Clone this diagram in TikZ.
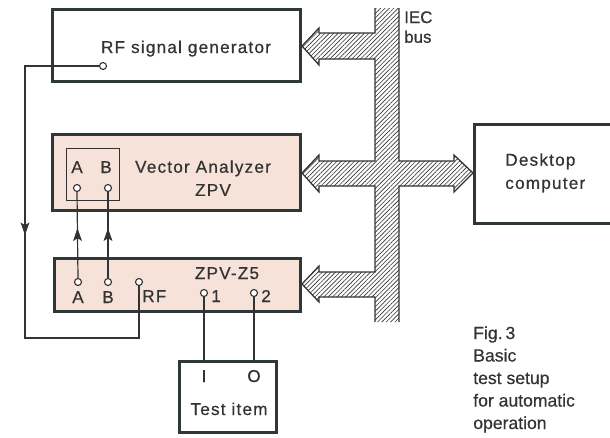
\documentclass[tikz,border=0pt]{standalone}
\usepackage{fontspec}
\setmainfont{Liberation Sans}[FakeBold=0.5]
\newfontfamily\boxfont{Liberation Sans}[LetterSpace=7,FakeBold=0.5]
\usepackage{tikz}
\usetikzlibrary{arrows.meta,positioning,patterns.meta,decorations.markings}
\definecolor{ZpvPink}{HTML}{F6E2D9}
\definecolor{ZpvInk}{HTML}{2E3836}
\definecolor{ZpvLine}{HTML}{333333}
\tikzset{
  devbox/.style={draw=ZpvInk,line width=2.1pt,fill=white,inner sep=0pt},
  pinkbox/.style={devbox,fill=ZpvPink},
  abbox/.style={draw=ZpvLine,line width=0.9pt,inner sep=0pt},
  portdot/.style={circle,draw=ZpvLine,line width=0.8pt,fill=white,minimum size=1.75mm,inner sep=0pt},
  boxtext/.style={font=\boxfont\fontsize{12.2}{16.5}\selectfont,text=ZpvLine,inner sep=0pt},
  captext/.style={font=\fontsize{12.5}{16}\selectfont,text=ZpvLine,inner sep=0pt,align=left},
  sigline/.style={draw=ZpvLine,line width=0.85pt},
  sigmid/.style={postaction={decorate},decoration={markings,mark=at position #1 with {\arrow{Stealth[length=3.2mm,width=2.2mm,inset=0.7mm]}}}},
  busedge/.style={draw=ZpvLine,line width=0.9pt,line join=miter},
  bushatch/.style={pattern={Lines[angle=45,distance=2.2pt,line width=0.45pt]},pattern color=ZpvLine}
}
\begin{document}
\begin{tikzpicture}[x=0.025cm,y=-0.025cm]
\clip (0,0) rectangle (610,437);
\fill[white] (0,0) rectangle (610,437);
% IEC bus
\fill[bushatch] (375,8) -- (375,33) -- (319,33) -- (319,28) -- (302,46) -- (319,65) -- (319,59) -- (375,59)
  -- (375,161) -- (319,161) -- (319,155) -- (302,173) -- (319,192) -- (319,186) -- (375,186)
  -- (375,272) -- (319,272) -- (319,266) -- (302,284) -- (319,302) -- (319,297) -- (375,297) -- (375,322)
  -- (399,322) -- (399,186) -- (454,186) -- (454,192) -- (473,173) -- (454,155) -- (454,161) -- (399,161) -- (399,8) -- cycle;
\draw[busedge] (375,8) -- (375,33) -- (319,33) -- (319,28) -- (302,46) -- (319,65) -- (319,59) -- (375,59)
  -- (375,161) -- (319,161) -- (319,155) -- (302,173) -- (319,192) -- (319,186) -- (375,186)
  -- (375,272) -- (319,272) -- (319,266) -- (302,284) -- (319,302) -- (319,297) -- (375,297) -- (375,322);
\draw[busedge] (399,322) -- (399,186) -- (454,186) -- (454,192) -- (473,173) -- (454,155) -- (454,161) -- (399,161) -- (399,8);
\node[captext,anchor=north west,font=\fontsize{12}{14}\selectfont] (iec) at (404,11) {IEC\\bus};
% devices
\node[devbox,minimum width=6.2cm,minimum height=1.8cm] (gen) at (176.5,45.5) {};
\node[boxtext,anchor=base] (gentxt) at (186,53) {RF signal generator};
\node[pinkbox,minimum width=6.2cm,minimum height=1.9cm] (zpv) at (176.5,172.5) {};
\node[boxtext,anchor=north,align=center] (zpvtxt) at (203,160) {Vector Analyzer\\\hspace*{0.5cm}ZPV};
\node[abbox,minimum width=1.325cm,minimum height=1.3cm] (ab) at (93,174.5) {};
\node[boxtext,anchor=base] (abtxta) at (77,173) {A};
\node[boxtext,anchor=base] (abtxtb) at (106,173) {B};
\node[pinkbox,minimum width=6.15cm,minimum height=1.325cm] (zfive) at (177.5,285) {};
\node[boxtext,anchor=base] (zfivetxt) at (227,279) {ZPV-Z5};
\node[devbox,minimum width=2.425cm,minimum height=1.775cm] (dut) at (228,397) {};
\node[boxtext,anchor=base] (dutin) at (204,382) {I};
\node[boxtext,anchor=base] (dutout) at (254,382) {O};
\node[boxtext,anchor=base] (duttxt) at (229,415) {Test item};
\node[devbox,minimum width=5.5cm,minimum height=2.475cm] (pc) at (584.5,174) {};
\node[boxtext,anchor=north west,align=left] (pctxt) at (505,153) {Desktop\\computer};
% ports
\node[portdot] (genrf) at (103,66) {};
\node[portdot] (pa) at (77,188) {};
\node[portdot] (pb) at (108,188) {};
\node[portdot] (za) at (78,282) {};
\node[portdot] (zb) at (108,282) {};
\node[portdot] (zrf) at (139,282) {};
\node[portdot] (z1) at (204,293) {};
\node[portdot] (z2) at (254,293) {};
\node[boxtext,anchor=base] at (78,303) {A};
\node[boxtext,anchor=base] at (108,303) {B};
\node[boxtext,anchor=base west] at (142,302) {RF};
\node[boxtext,anchor=base west] at (211,302) {1};
\node[boxtext,anchor=base west] at (261,302) {2};
% signal lines
\coordinate (rftop) at (25,66);
\coordinate (rfbot) at (25,338);
\draw[sigline,sigmid=0.475] (genrf.west) -- (rftop) -- (rfbot) -| (zrf.south);
\draw[sigline,sigmid=0.58] (za.north) -- (pa.south);
\draw[sigline,sigmid=0.58] (zb.north) -- (pb.south);
\draw[sigline] (z1.south) -- (z1.south |- dut.north);
\draw[sigline] (z2.south) -- (z2.south |- dut.north);
\node[captext,anchor=north west] (fig) at (473,326) {Fig.\,3\\Basic\\test setup\\for automatic\\operation};
\end{tikzpicture}
\end{document}
